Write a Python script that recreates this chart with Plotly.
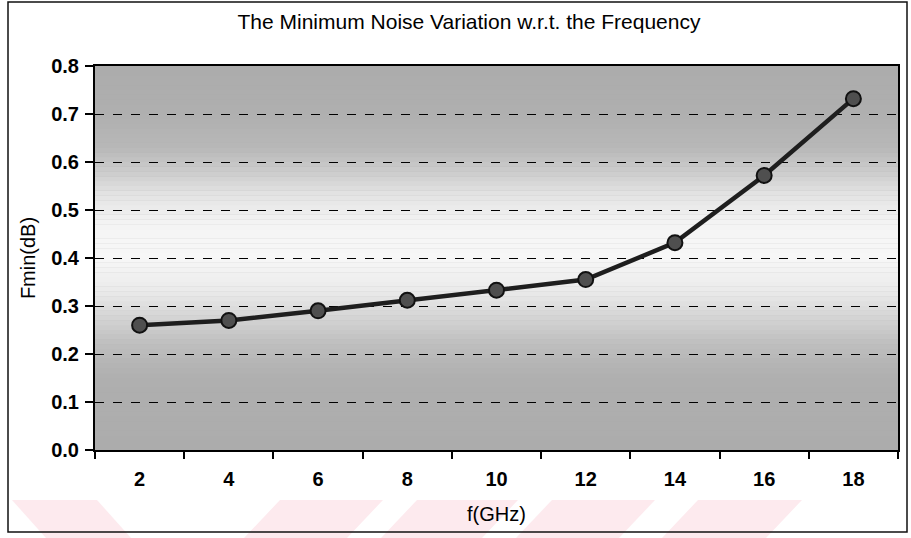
import plotly.graph_objects as go

# ---- data ----
freq_labels = ["2", "4", "6", "8", "10", "12", "14", "16", "18"]
fmin_db = [0.26, 0.27, 0.29, 0.312, 0.333, 0.355, 0.432, 0.572, 0.732]
y_ticks = [0.0, 0.1, 0.2, 0.3, 0.4, 0.5, 0.6, 0.7, 0.8]

title_text = "The Minimum Noise Variation w.r.t. the Frequency"
x_title = "f(GHz)"
y_title = "Fmin(dB)"

W, H = 911, 538
L, R, T, B = 95, 13, 66, 88
PW, PH = W - L - R, H - T - B

def px_x(px):
    return (px - L) / PW

def px_y(py):
    return (H - B - py) / PH

FONT = "Liberation Sans, Arial, sans-serif"
TICKFONT = dict(size=20, family="Liberation Sans, Arial, sans-serif", color="black", weight="bold")

fig = go.Figure()
fig.add_trace(go.Scatter(
    x=freq_labels, y=fmin_db, mode="lines+markers",
    line=dict(color="#1e1e1e", width=4.5),
    marker=dict(symbol="circle", size=15, color="#4f4f4f",
                line=dict(color="#111111", width=2)),
    showlegend=False, cliponaxis=False,
))

shapes = []
# background gradient (dark top and bottom, light middle) in bands
stops = [(0.0, 172), (0.15, 175), (0.22, 190), (0.28, 214), (0.33, 234),
         (0.40, 247), (0.47, 244), (0.53, 228), (0.58, 204), (0.63, 184),
         (0.70, 175), (0.80, 172)]

def gray_at(v):
    for (a, ga), (b, gb) in zip(stops[:-1], stops[1:]):
        if a <= v <= b:
            t = (v - a) / (b - a)
            return ga + t * (gb - ga)
    return stops[-1][1]

n = 80
for i in range(n):
    y0 = 0.8 * i / n
    y1 = 0.8 * (i + 1) / n
    g = int(round(gray_at((y0 + y1) / 2)))
    shapes.append(dict(type="rect", xref="x domain", yref="y",
                       x0=0, x1=1, y0=y0, y1=y1 + 0.0005,
                       fillcolor=f"rgb({g},{g},{g})", line=dict(width=0),
                       layer="below"))

# faint pink scan watermark stripes at the bottom
pink = "#fdeaee"
def para(xt0, xt1, shift, yt=500, yb=538):
    return dict(type="path", xref="paper", yref="paper",
                path=(f"M {px_x(xt0)} {px_y(yt)} L {px_x(xt1)} {px_y(yt)} "
                      f"L {px_x(xt1 + shift)} {px_y(yb)} L {px_x(xt0 + shift)} {px_y(yb)} Z"),
                fillcolor=pink, line=dict(width=0), layer="below")

shapes.append(para(12, 97, 34))
for x0, x1 in [(280, 383), (417, 518), (552, 655), (698, 802)]:
    shapes.append(para(x0, x1, -36))

# outer frame
shapes.append(dict(type="rect", xref="paper", yref="paper",
                   x0=px_x(8), x1=px_x(907), y0=px_y(532), y1=px_y(2),
                   line=dict(color="#111111", width=1.5), layer="above"))

fig.update_layout(
    width=W, height=H,
    margin=dict(l=L, r=R, t=T, b=B),
    paper_bgcolor="white", plot_bgcolor="rgb(172,172,172)",
    font=dict(family=FONT, color="black", size=20),
    title=dict(text=title_text, x=px_x(469), xref="paper", xanchor="center",
               y=1 - 22 / H, yref="container", yanchor="middle",
               font=dict(size=21, family=FONT, color="black")),
    shapes=shapes,
    xaxis=dict(type="category", categoryorder="array", categoryarray=freq_labels,
               range=[-0.5, len(freq_labels) - 0.5],
               showline=True, linecolor="black", linewidth=2, mirror=True,
               ticks="outside", tickson="boundaries", ticklen=7, tickwidth=2,
               tickcolor="black", showgrid=False, ticklabelstandoff=10,
               tickfont=TICKFONT,
               title=dict(text=x_title, font=dict(size=20), standoff=18)),
    yaxis=dict(range=[0, 0.8], tickvals=y_ticks, tickformat=".1f",
               showline=True, linecolor="black", linewidth=2, mirror=True,
               ticks="outside", ticklen=8, tickwidth=2, tickcolor="black",
               showgrid=True, gridcolor="black", gridwidth=1, griddash="dash",
               zeroline=False, tickfont=TICKFONT, ticklabelstandoff=2,
               title=dict(text=y_title, font=dict(size=20), standoff=10)),
)

fig.write_html("out.html")
